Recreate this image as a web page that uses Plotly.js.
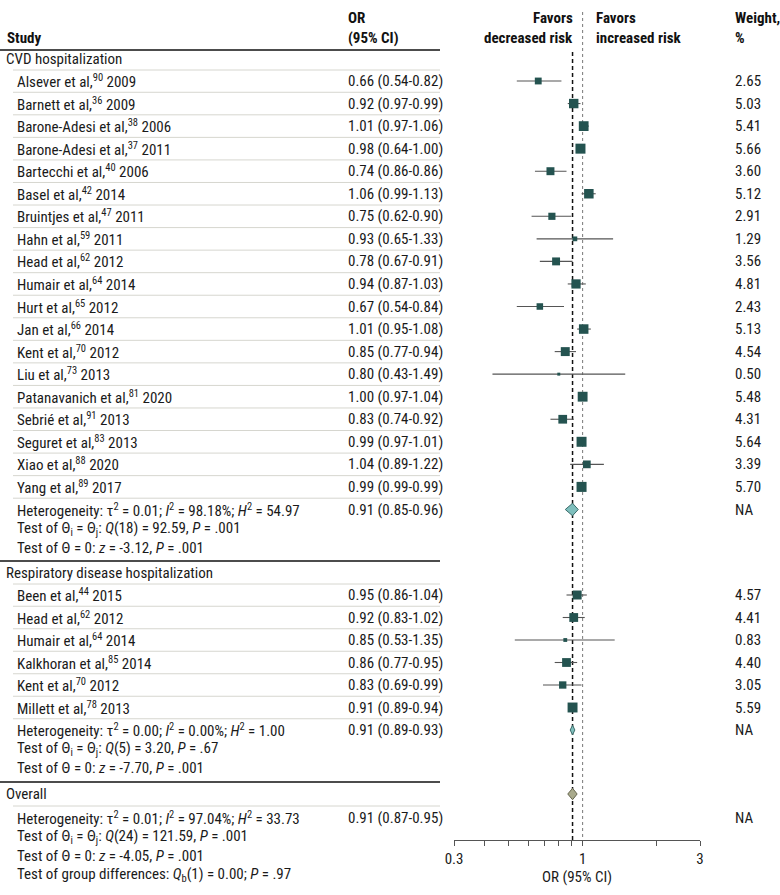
<!DOCTYPE html>
<html>
<head>
<meta charset="utf-8">
<script src="https://cdn.plot.ly/plotly-3.0.1.min.js"></script>
<style>html,body{margin:0;padding:0;background:#fff}#chart{width:780px;height:895px}</style>
</head>
<body>
<div id="chart"></div>
<script>
// ---------------- DATA ----------------
const cvdNames = ["Alsever","Barnett","Barone-Adesi","Barone-Adesi","Bartecchi","Basel","Bruintjes","Hahn","Head","Humair","Hurt","Jan","Kent","Liu","Patanavanich","Sebrié","Seguret","Xiao","Yang"];
const cvdRefs = [90,36,38,37,40,42,47,59,62,64,65,66,70,73,81,91,83,88,89];
const cvdYears = [2009,2009,2006,2011,2006,2014,2011,2011,2012,2014,2012,2014,2012,2013,2020,2013,2013,2020,2017];
const cvdCiText = ["0.66 (0.54-0.82)","0.92 (0.97-0.99)","1.01 (0.97-1.06)","0.98 (0.64-1.00)","0.74 (0.86-0.86)","1.06 (0.99-1.13)","0.75 (0.62-0.90)","0.93 (0.65-1.33)","0.78 (0.67-0.91)","0.94 (0.87-1.03)","0.67 (0.54-0.84)","1.01 (0.95-1.08)","0.85 (0.77-0.94)","0.80 (0.43-1.49)","1.00 (0.97-1.04)","0.83 (0.74-0.92)","0.99 (0.97-1.01)","1.04 (0.89-1.22)","0.99 (0.99-0.99)"];
const cvdOR = [0.66,0.92,1.01,0.98,0.74,1.06,0.75,0.93,0.78,0.94,0.67,1.01,0.85,0.80,1.00,0.83,0.99,1.04,0.99];
const cvdLo = [0.54,0.87,0.97,0.96,0.64,0.99,0.62,0.65,0.67,0.87,0.54,0.95,0.77,0.43,0.97,0.74,0.97,0.89,0.99];
const cvdHi = [0.82,0.98,1.06,1.00,0.86,1.13,0.90,1.33,0.91,1.03,0.84,1.08,0.94,1.49,1.04,0.92,1.01,1.22,0.99];
const cvdWeights = ["2.65","5.03","5.41","5.66","3.60","5.12","2.91","1.29","3.56","4.81","2.43","5.13","4.54","0.50","5.48","4.31","5.64","3.39","5.70"];

const resNames = ["Been","Head","Humair","Kalkhoran","Kent","Millett"];
const resRefs = [44,62,64,85,70,78];
const resYears = [2015,2012,2014,2014,2012,2013];
const resCiText = ["0.95 (0.86-1.04)","0.92 (0.83-1.02)","0.85 (0.53-1.35)","0.86 (0.77-0.95)","0.83 (0.69-0.99)","0.91 (0.89-0.94)"];
const resOR = [0.95,0.92,0.85,0.86,0.83,0.91];
const resLo = [0.86,0.83,0.53,0.77,0.69,0.89];
const resHi = [1.04,1.02,1.35,0.95,0.99,0.94];
const resWeights = ["4.57","4.41","0.83","4.40","3.05","5.59"];

const sectionLabels = ["CVD hospitalization","Respiratory disease hospitalization","Overall"];
const summaryOR = [0.91,0.91,0.91];
const summaryLo = [0.85,0.89,0.87];
const summaryHi = [0.96,0.93,0.95];
const summaryText = ["0.91 (0.85-0.96)","0.91 (0.89-0.93)","0.91 (0.87-0.95)"];
const cvdStats = [
  "Heterogeneity: τ<sup>2</sup> = 0.01; <i>I</i><sup>2</sup> = 98.18%; <i>H</i><sup>2</sup> = 54.97",
  "Test of Θ<sub>i</sub> = Θ<sub>j</sub>: <i>Q</i>(18) = 92.59, <i>P</i> = .001",
  "Test of Θ = 0: <i>z</i> = -3.12, <i>P</i> = .001"];
const resStats = [
  "Heterogeneity: τ<sup>2</sup> = 0.00; <i>I</i><sup>2</sup> = 0.00%; <i>H</i><sup>2</sup> = 1.00",
  "Test of Θ<sub>i</sub> = Θ<sub>j</sub>: <i>Q</i>(5) = 3.20, <i>P</i> = .67",
  "Test of Θ = 0: <i>z</i> = -7.70, <i>P</i> = .001"];
const overallStats = [
  "Heterogeneity: τ<sup>2</sup> = 0.01; <i>I</i><sup>2</sup> = 97.04%; <i>H</i><sup>2</sup> = 33.73",
  "Test of Θ<sub>i</sub> = Θ<sub>j</sub>: <i>Q</i>(24) = 121.59, <i>P</i> = .001",
  "Test of Θ = 0: <i>z</i> = -4.05, <i>P</i> = .001",
  "Test of group differences: <i>Q</i><sub>b</sub>(1) = 0.00; <i>P</i> = .97"];
const tickVals = [0.3,0.4,0.5,0.6,0.7,0.8,0.9,1,2,3];
const tickText = ["0.3","","","","","","","1","","3"];

// ---------------- FONT PICK ----------------
const W = 780, H = 895;
const ctx = document.createElement('canvas').getContext('2d');
function tw(font, s){ ctx.font = font; return ctx.measureText(s).width; }
const probe = "0.99 (0.99-0.99) Heterogeneity";
let FAMILY = "Roboto";
for (const f of ["Liberation Sans Narrow","Roboto Condensed","Arial Narrow","DejaVu Sans Condensed"]) {
  if (Math.abs(tw('100px "'+f+'", monospace', probe) - tw('100px monospace', probe)) > 1) { FAMILY = f; break; }
}
const per1 = tw('100px "'+FAMILY+'"', "0.99 (0.99-0.99)")/100;
let FS = 94/per1; FS = Math.max(11, Math.min(16, FS));
FS = Math.round(FS*2)/2;
const FONT = '"'+FAMILY+'", Roboto, sans-serif';

// ---------------- LAYOUT POSITIONS ----------------
const xName = 15, xSection = 4, xOR = 346, xWt = 733, xTableEnd = 440, xGray0 = 13;
const cvdLabelY = 59, cvdY0 = 81, step = 22.55;
const cvdY = cvdNames.map((_, i) => cvdY0 + i*step);
const cvdStatY = [509.5, 528.5, 547.5];
const line1Y = 561;
const resLabelY = 573;
const resY = resNames.map((_, i) => 595 + i*22.5);
const resStatY = [730, 749, 768];
const line2Y = 782;
const overallLabelY = 794;
const overallStatY = [818, 837, 856, 875];
const axisY = 840;

const ann = [];
function txt(x, y, text, o={}) {
  ann.push(Object.assign({xref:'paper', yref:'y', x: x/W, y: y, text: text, showarrow:false,
    xanchor:'left', yanchor:'middle', font:{family:FONT, size:FS, color:'#1a1a1a'}}, o));
}
const bold = {font:{family:FONT, size:FS, color:'#111', weight:700}};
const boldR = Object.assign({xanchor:'right'}, bold);

// headers
txt(5, 38, "<b>Study</b>", bold);
txt(xOR, 18, "<b>OR</b>", bold);
txt(xOR, 38, "<b>(95% CI)</b>", bold);
txt(575, 18, "<b>Favors</b>", boldR);
txt(575, 38, "<b>decreased risk</b>", boldR);
txt(594, 18, "<b>Favors</b>", bold);
txt(594, 38, "<b>increased risk</b>", bold);
txt(xWt, 18, "<b>Weight,</b>", bold);
txt(xWt, 38, "<b>%</b>", bold);

const shapes = [];
function hline(y, x0, x1, color, w) {
  shapes.push({type:'line', xref:'paper', yref:'y', x0:x0/W, x1:x1/W, y0:y, y1:y, line:{color:color, width:w}, layer:'below'});
}
const GRAY = '#d6d6cf';
hline(50, 0, xTableEnd, '#111', 1.3);

// CVD section
txt(xSection, cvdLabelY, sectionLabels[0]);
let prevY = cvdLabelY;
cvdNames.forEach((n, i) => {
  hline((prevY + cvdY[i])/2, xGray0, xTableEnd, GRAY, 1);
  txt(xName, cvdY[i], n + " et al,<sup>" + cvdRefs[i] + "</sup> " + cvdYears[i]);
  txt(xOR, cvdY[i], cvdCiText[i]);
  txt(xWt, cvdY[i], cvdWeights[i]);
  prevY = cvdY[i];
});
hline((prevY + cvdStatY[0])/2, xGray0, xTableEnd, GRAY, 1);
cvdStats.forEach((s, i) => txt(xName, cvdStatY[i], s));
txt(xOR, cvdStatY[0], summaryText[0]);
txt(xWt, cvdStatY[0], "NA");
hline(line1Y, 0, xTableEnd, '#111', 1.3);

// Respiratory section
txt(xSection, resLabelY, sectionLabels[1]);
prevY = resLabelY;
resNames.forEach((n, i) => {
  hline((prevY + resY[i])/2, xGray0, xTableEnd, GRAY, 1);
  txt(xName, resY[i], n + " et al,<sup>" + resRefs[i] + "</sup> " + resYears[i]);
  txt(xOR, resY[i], resCiText[i]);
  txt(xWt, resY[i], resWeights[i]);
  prevY = resY[i];
});
hline((prevY + resStatY[0])/2, xGray0, xTableEnd, GRAY, 1);
resStats.forEach((s, i) => txt(xName, resStatY[i], s));
txt(xOR, resStatY[0], summaryText[1]);
txt(xWt, resStatY[0], "NA");
hline(line2Y, 0, xTableEnd, '#111', 1.3);

// Overall
txt(xSection, overallLabelY, sectionLabels[2]);
hline((overallLabelY + overallStatY[0])/2, xGray0, xTableEnd, GRAY, 1);
overallStats.forEach((s, i) => txt(xName, overallStatY[i], s));
txt(xOR, overallStatY[0], summaryText[2]);
txt(xWt, overallStatY[0], "NA");

// reference lines
shapes.push({type:'line', xref:'x', yref:'y', x0:1, x1:1, y0:12, y1:axisY, line:{color:'#777', width:1, dash:'dot'}, layer:'below'});
shapes.push({type:'line', xref:'x', yref:'y', x0:summaryOR[2], x1:summaryOR[2], y0:52, y1:axisY, line:{color:'#111', width:1.5, dash:'4px,3px'}, layer:'below'});

// ---------------- TRACES ----------------
const BOX = '#245350';
function studyTrace(or, lo, hi, wts, ys) {
  return {
    type:'scatter', mode:'markers', x: or, y: ys, hoverinfo:'skip',
    marker:{symbol:'square', color:BOX, opacity:1, size: wts.map(w => 4.2*Math.sqrt(+w)), line:{width:0}},
    error_x:{type:'data', symmetric:false, array: hi.map((h,i)=>h-or[i]), arrayminus: lo.map((l,i)=>or[i]-l), color:'#555', thickness:1.1, width:0}
  };
}
function diamond(k, yc, h, fill, edge) {
  return {type:'scatter', mode:'lines', hoverinfo:'skip', fill:'toself', fillcolor:fill,
    x:[summaryLo[k], summaryOR[k], summaryHi[k], summaryOR[k], summaryLo[k]],
    y:[yc, yc-h, yc, yc+h, yc], line:{color:edge, width:1}};
}
const traces = [
  studyTrace(cvdOR, cvdLo, cvdHi, cvdWeights, cvdY),
  studyTrace(resOR, resLo, resHi, resWeights, resY),
  diamond(0, cvdStatY[0], 6.2, '#7fbfbd', '#3c6c6a'),
  diamond(1, resStatY[0], 4.8, '#7fbfbd', '#3c6c6a'),
  diamond(2, overallLabelY, 5.7, '#a9aa8c', '#66664f')
];

const layout = {
  width:W, height:H, margin:{l:0, r:0, t:0, b:0}, paper_bgcolor:'#fff', plot_bgcolor:'rgba(0,0,0,0)',
  showlegend:false, font:{family:FONT, size:FS, color:'#1a1a1a'},
  xaxis:{type:'log', range:[Math.log10(0.3), Math.log10(3)], domain:[454/W, 700/W], anchor:'free', position:(H-axisY)/H,
    showline:true, linecolor:'#555', linewidth:1, ticks:'outside', ticklen:5, tickcolor:'#555', tickwidth:1,
    tickvals:tickVals, ticktext:tickText, showgrid:false, zeroline:false, automargin:false,
    tickfont:{family:FONT, size:FS, color:'#1a1a1a'},
    title:{text:'OR (95% CI)', font:{family:FONT, size:FS, color:'#1a1a1a'}, standoff:4}},
  yaxis:{range:[H, 0], domain:[0,1], visible:false, showgrid:false, zeroline:false, automargin:false},
  shapes:shapes, annotations:ann
};
Plotly.newPlot('chart', traces, layout, {displayModeBar:false, staticPlot:true});
</script>
</body>
</html>
